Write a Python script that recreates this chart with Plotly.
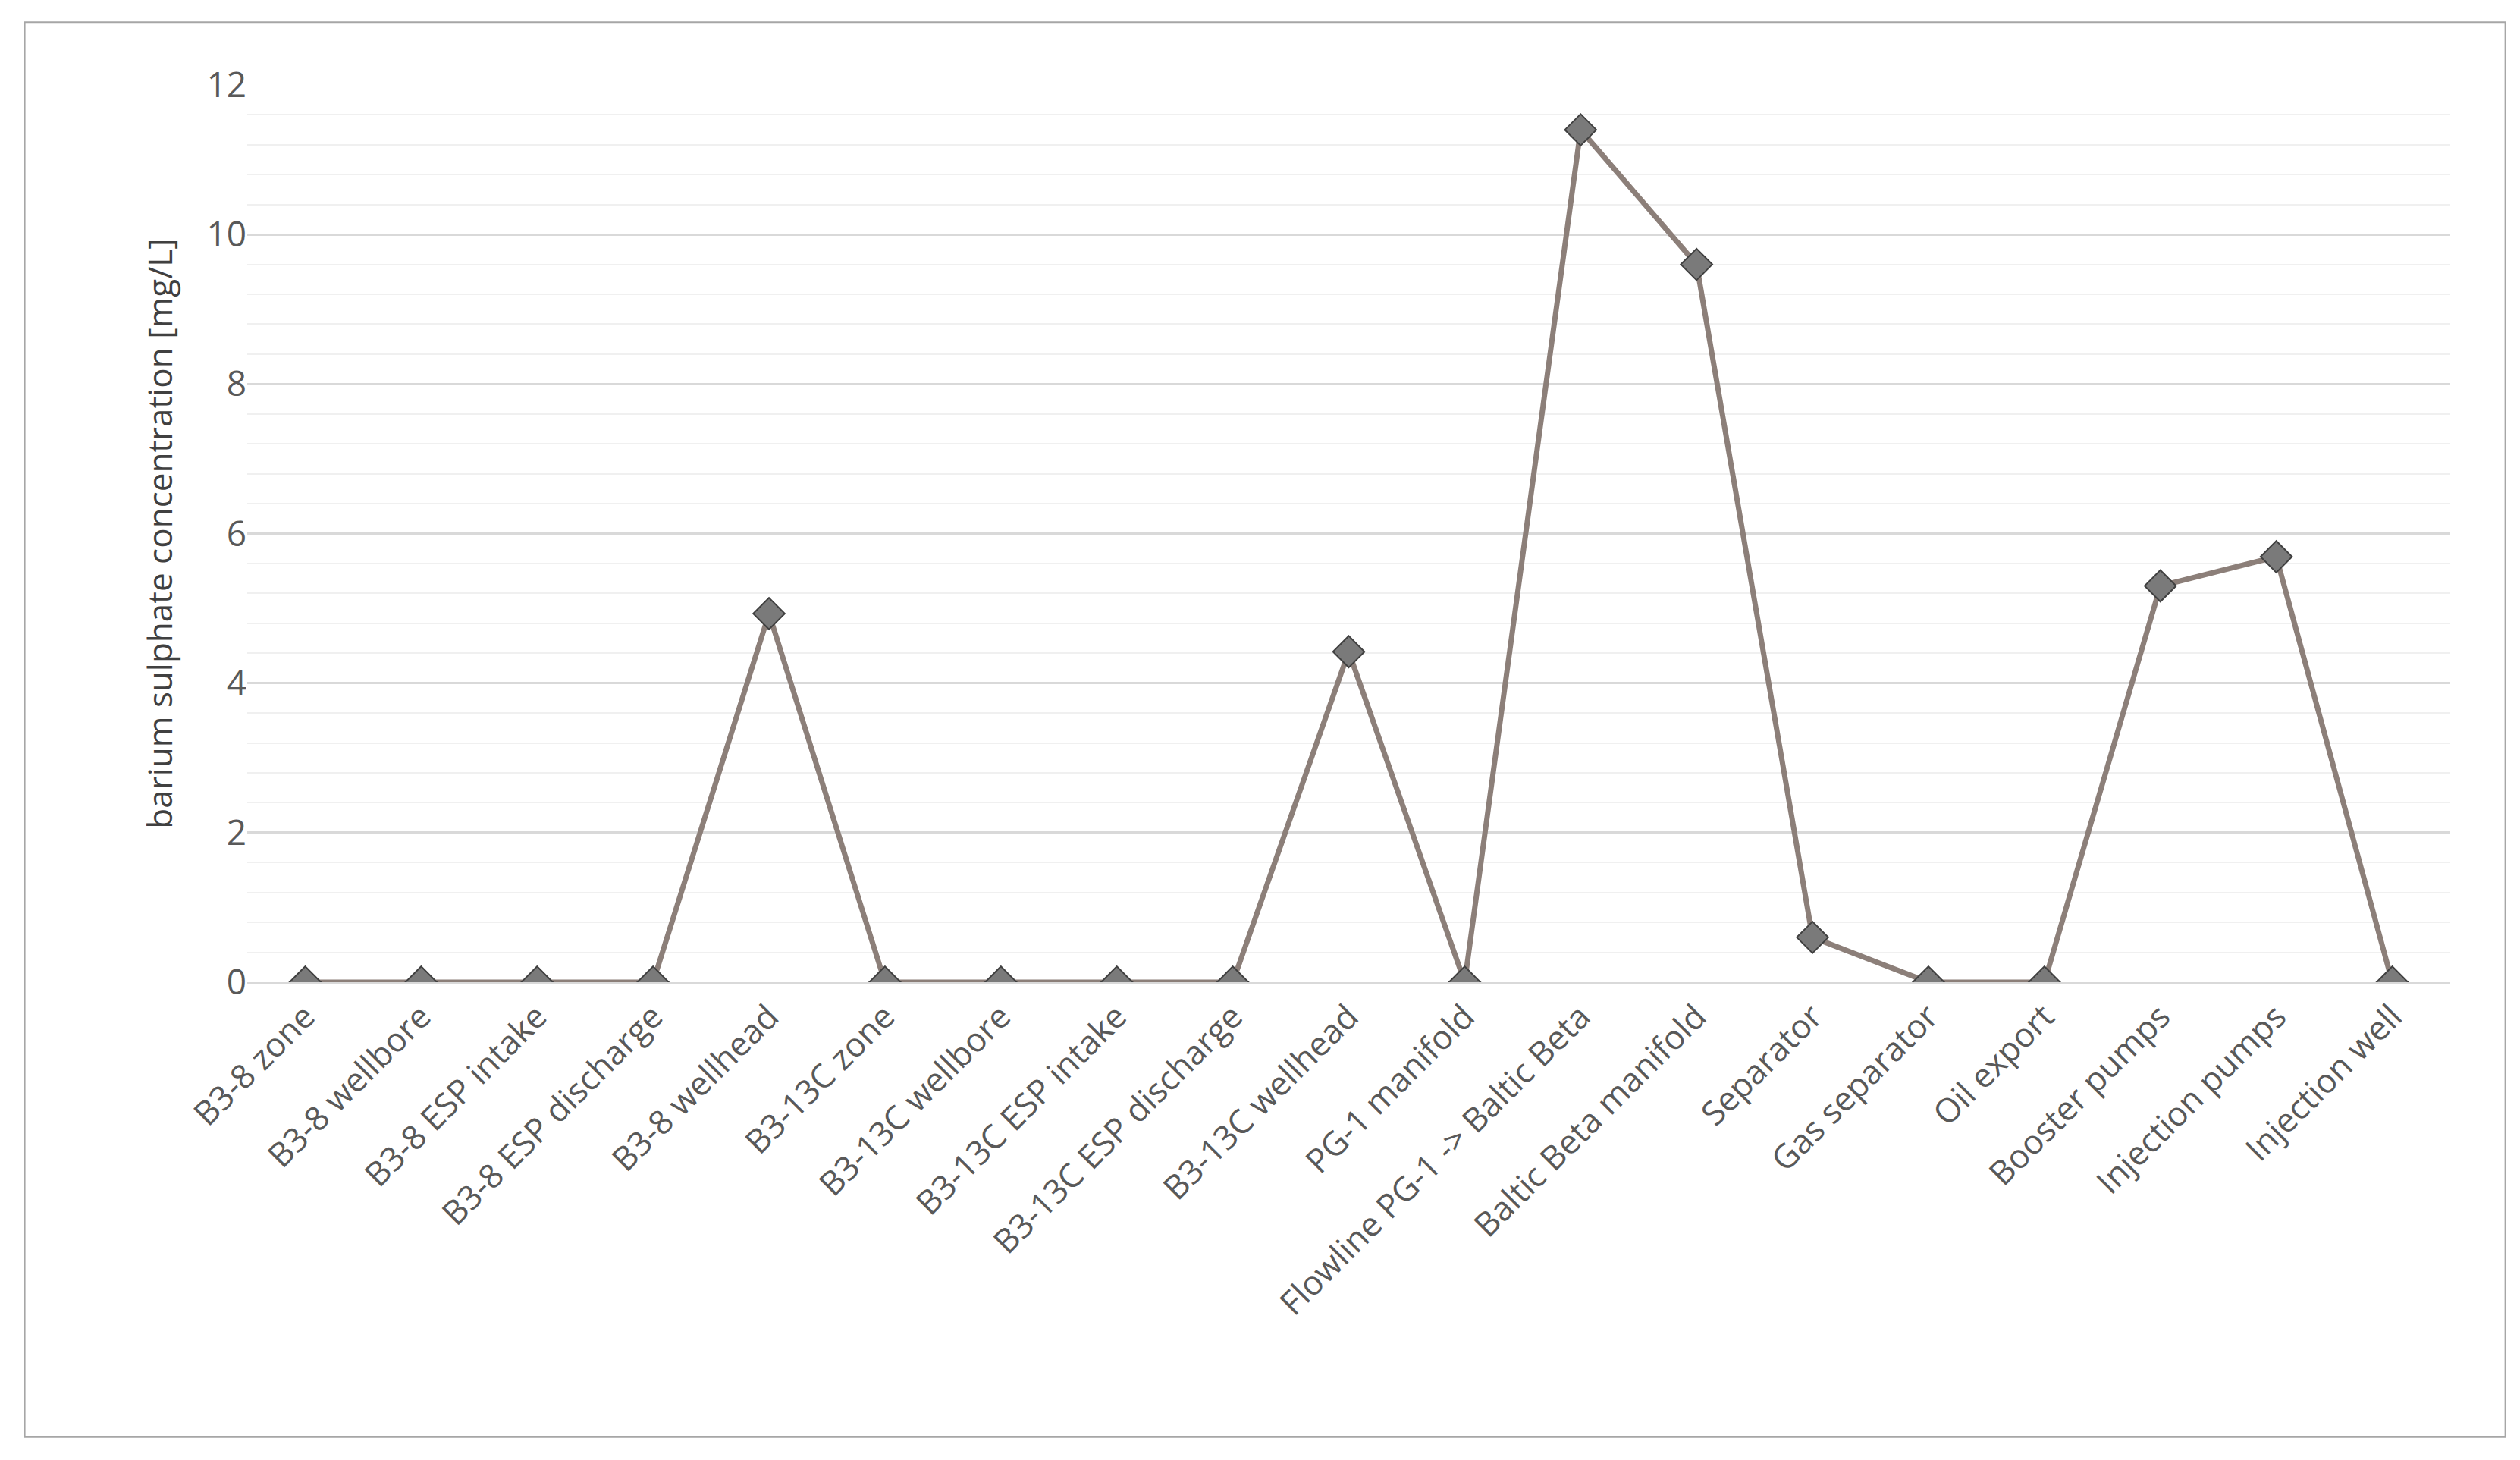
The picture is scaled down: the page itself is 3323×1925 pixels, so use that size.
import plotly.graph_objects as go

locations = ["B3-8 zone", "B3-8 wellbore", "B3-8 ESP intake", "B3-8 ESP discharge",
             "B3-8 wellhead", "B3-13C zone", "B3-13C wellbore", "B3-13C ESP intake",
             "B3-13C ESP discharge", "B3-13C wellhead", "PG-1 manifold",
             "Flowline PG-1 -> Baltic Beta", "Baltic Beta manifold", "Separator",
             "Gas separator", "Oil export", "Booster pumps", "Injection pumps",
             "Injection well"]
baso4 = [0, 0, 0, 0, 4.93, 0, 0, 0, 0, 4.42, 0, 11.4, 9.6, 0.6, 0, 0, 5.3, 5.69, 0]

fig = go.Figure()
fig.add_trace(go.Scatter(
    x=locations, y=baso4, mode="lines+markers",
    line=dict(color="#8c7f79", width=7),
    marker=dict(symbol="diamond", size=32, color="#7a7a7a",
                line=dict(color="#404040", width=2)),
))

fig.update_xaxes(tickangle=-45, range=[-0.5, 18.5], showgrid=False, showline=True,
                 linecolor="#d9d9d9", linewidth=2,
                 tickfont=dict(size=44, color="#595959"), ticks="")
fig.update_yaxes(range=[0, 12], dtick=2, showgrid=True, gridcolor="#d9d9d9", gridwidth=3,
                 minor=dict(dtick=0.4, showgrid=True, gridcolor="#f0f0f0", gridwidth=2),
                 zeroline=False, tickfont=dict(size=46, color="#595959"),
                 title=dict(text="barium sulphate concentration [mg/L]",
                            font=dict(size=44, color="#404040"), standoff=30))

fig.update_layout(
    width=3323, height=1925, plot_bgcolor="white", paper_bgcolor="white",
    font=dict(family="Open Sans"), showlegend=False,
    margin=dict(l=318, r=100, t=104, b=638),
    shapes=[dict(type="rect", xref="paper", yref="paper", x0=-0.101, x1=1.025,
                 y0=-0.507, y1=1.07, line=dict(color="#a6a6a6", width=2))],
)

fig.write_html("out.html")
